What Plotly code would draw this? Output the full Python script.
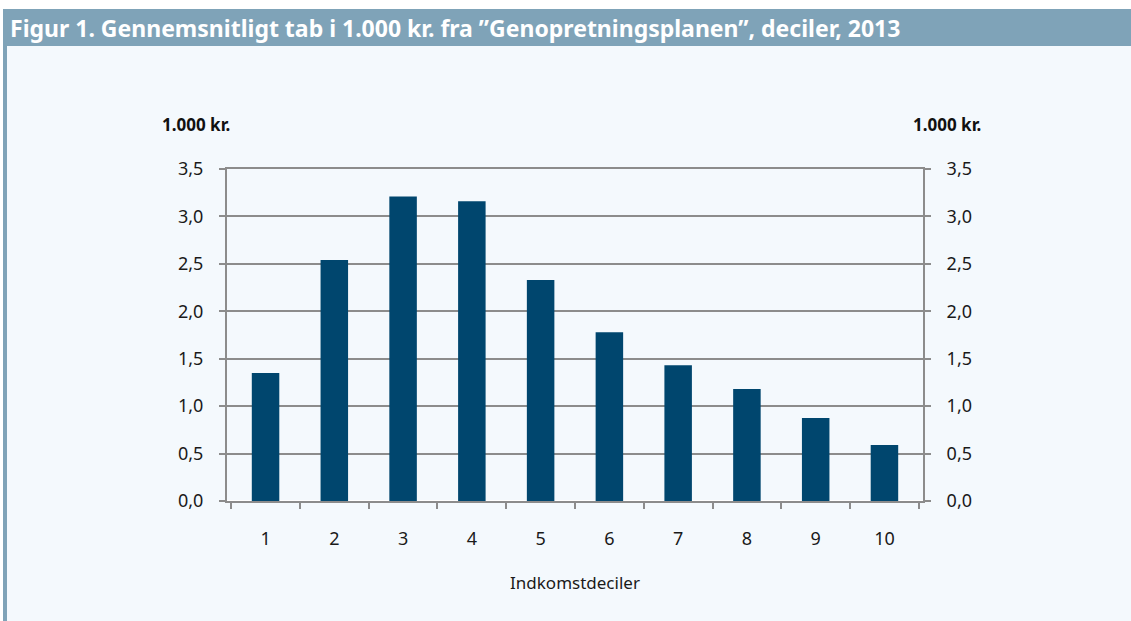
import plotly.graph_objects as go

categories = ["1", "2", "3", "4", "5", "6", "7", "8", "9", "10"]
values = [1.35, 2.54, 3.21, 3.16, 2.33, 1.78, 1.43, 1.18, 0.875, 0.59]
y_ticks = [0, 0.5, 1.0, 1.5, 2.0, 2.5, 3.0, 3.5]
title_text = "Figur 1. Gennemsnitligt tab i 1.000 kr. fra \u201dGenopretningsplanen\u201d, deciler, 2013"
unit_label = "1.000 kr."
x_title = "Indkomstdeciler"

W, H = 1131, 621
L, R, T, B = 227, 923, 169, 501

def px(x):
    return (x - L) / (R - L)

def py(y):
    return (B - y) / (B - T)

BG = "#f4f9fd"
HEAD = "#7fa3b8"
BAR = "#00466e"
GRID = "#8c8c8c"
FONT = "Noto Sans"
TXT = "#1a1a1a"

fig = go.Figure()
fig.add_trace(go.Bar(x=categories, y=values, marker=dict(color=BAR, line=dict(width=0)),
                     width=0.4, hoverinfo="x+y"))
fig.add_trace(go.Scatter(x=categories, y=values, yaxis="y2", mode="markers",
                         marker=dict(opacity=0), hoverinfo="skip", showlegend=False))

axis_common = dict(range=[0, 3.5], tickvals=y_ticks, tickformat=".1f",
                   showline=True, linecolor=GRID, linewidth=2,
                   ticks="outside", ticklen=6, tickcolor=GRID, tickwidth=2,
                   tickfont=dict(family=FONT, size=18, color=TXT),
                   fixedrange=True)

fig.update_layout(
    width=W, height=H,
    margin=dict(l=L, r=W - R, t=T, b=H - B, pad=0),
    paper_bgcolor=BG, plot_bgcolor=BG,
    separators=",.",
    showlegend=False,
    bargap=0.6,
    font=dict(family=FONT),
    xaxis=dict(type="category", showline=True, mirror=True, linecolor=GRID, linewidth=2,
               ticks="outside", ticklen=6, tickcolor=GRID, tickwidth=2,
               tickson="boundaries", showgrid=False, fixedrange=True,
               tickfont=dict(family=FONT, size=18, color=TXT),
               ticklabelstandoff=20,
               title=dict(text=x_title, font=dict(family=FONT, size=17, color=TXT), standoff=29)),
    yaxis=dict(showgrid=True, gridcolor=GRID, gridwidth=2, ticklabelstandoff=12, **axis_common),
    yaxis2=dict(overlaying="y", side="right", showgrid=False, ticklabelstandoff=12, **axis_common),
    shapes=[
        dict(type="rect", xref="paper", yref="paper", x0=px(0), x1=px(W), y0=py(9), y1=py(0),
             fillcolor="white", line=dict(width=0), layer="below"),
        dict(type="rect", xref="paper", yref="paper", x0=px(0), x1=px(W), y0=py(46), y1=py(9),
             fillcolor=HEAD, line=dict(width=0), layer="below"),
        dict(type="rect", xref="paper", yref="paper", x0=px(0), x1=px(3), y0=py(H), y1=py(0),
             fillcolor="white", line=dict(width=0), layer="below"),
        dict(type="rect", xref="paper", yref="paper", x0=px(3), x1=px(7), y0=py(H), y1=py(9),
             fillcolor=HEAD, line=dict(width=0), layer="below"),
    ],
    annotations=[
        dict(text="<b>" + title_text + "</b>", xref="paper", yref="paper", x=px(8), y=py(28),
             xanchor="left", yanchor="middle", showarrow=False,
             font=dict(family=FONT, size=23, color="white")),
        dict(text="<b>" + unit_label + "</b>", xref="paper", yref="paper", x=px(196), y=py(125),
             xanchor="center", yanchor="middle", showarrow=False,
             font=dict(family=FONT, size=17, color="#111111")),
        dict(text="<b>" + unit_label + "</b>", xref="paper", yref="paper", x=px(947), y=py(125),
             xanchor="center", yanchor="middle", showarrow=False,
             font=dict(family=FONT, size=17, color="#111111")),
    ],
)

fig.write_html("out.html", config=dict(displayModeBar=False),
               post_script="document.body.style.margin='0';document.body.style.overflow='hidden';")
